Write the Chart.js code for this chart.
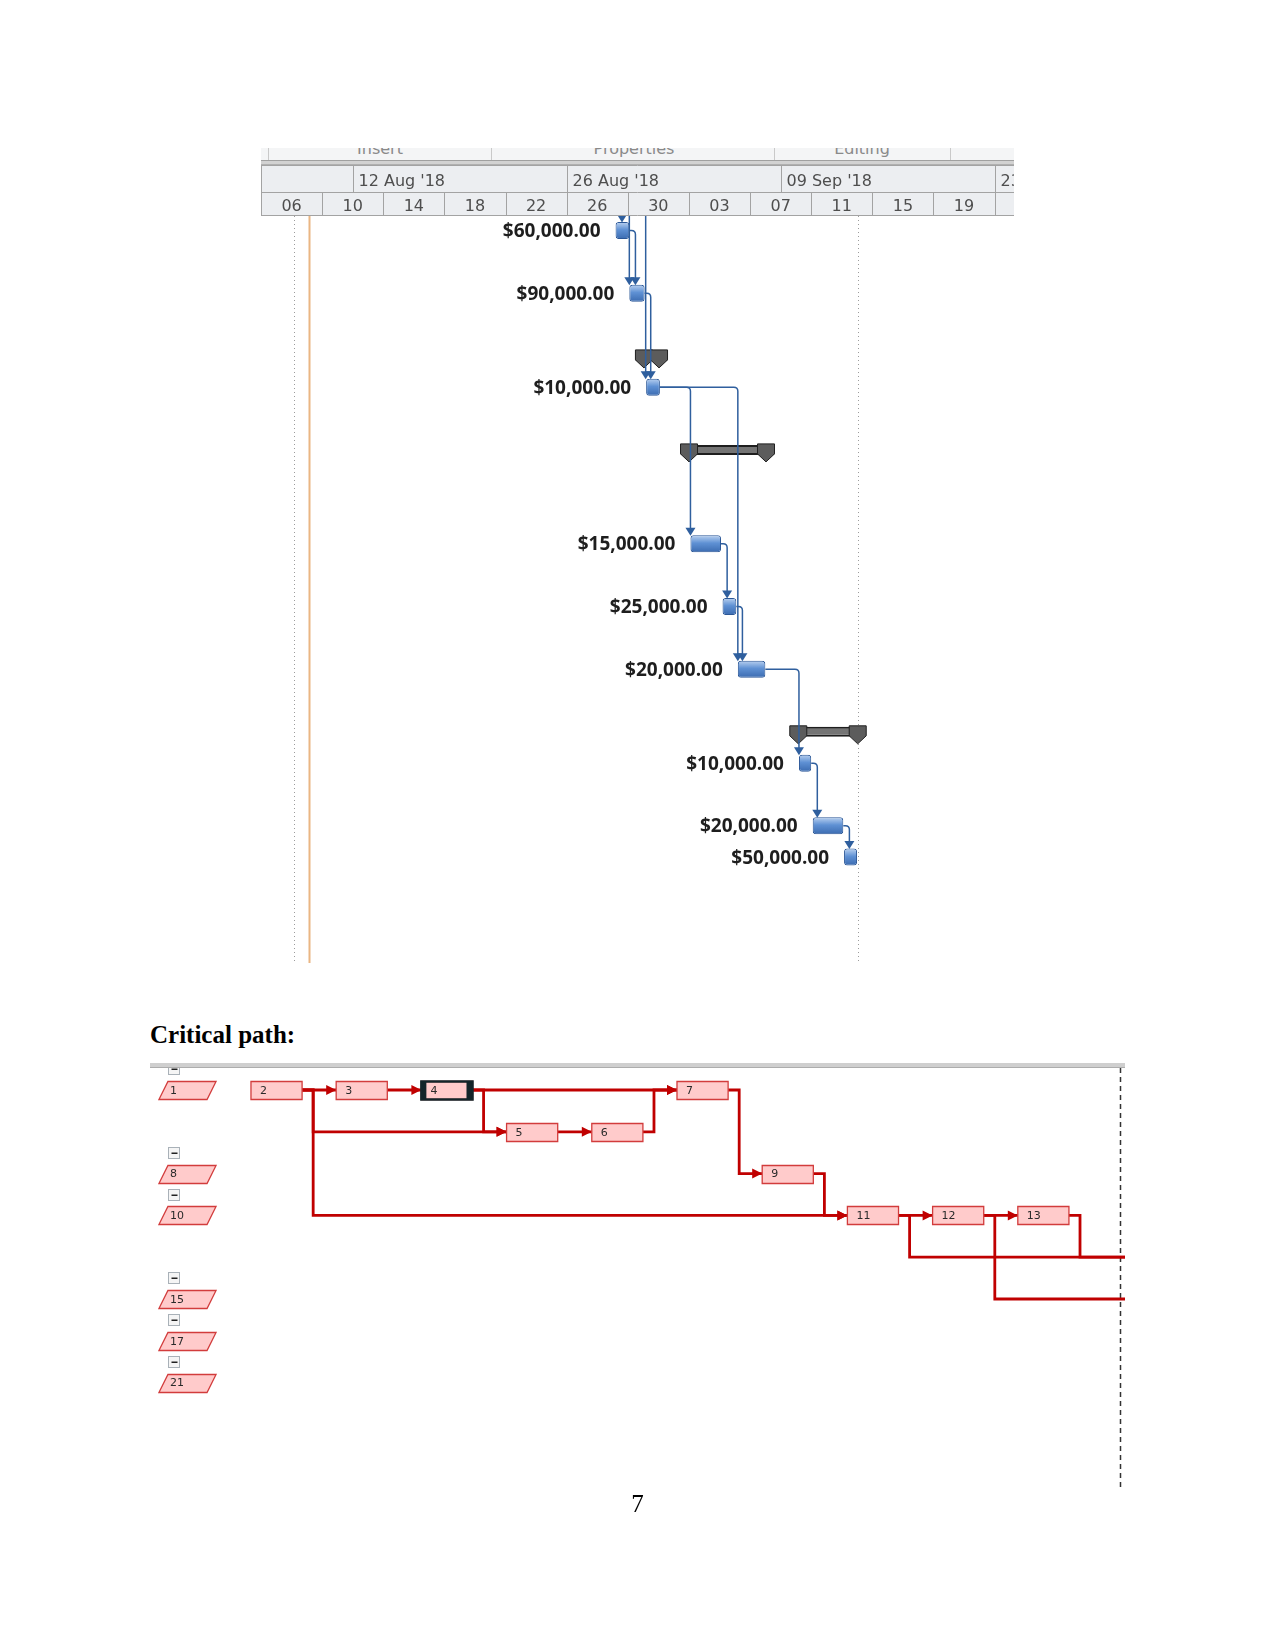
<!DOCTYPE html>
<html>
<head>
<meta charset="utf-8">
<title>Cost Gantt and critical path</title>
<script src="https://cdn.jsdelivr.net/npm/chart.js"></script>
<style>
    body { margin: 0; background: #fff; }
    .page { position: relative; width: 1275px; height: 1651px; overflow: hidden; }
    #ribbon { position: absolute; left: 261px; top: 148px; width: 753px; height: 12px; background: #f4f5f6; overflow: hidden; z-index: 2; }
    #ribbon span { position: absolute; top: -7px; font: 16px/16px "DejaVu Sans", sans-serif; color: #8a8a8a; transform: translateX(-50%); white-space: nowrap; }
    #ribbon i { position: absolute; top: 0; width: 1px; height: 12px; background: #c9c9c9; }
    #ribbon-line { position: absolute; left: 261px; top: 160px; width: 753px; height: 3px; background: #d2d2d2; border-top: 1px solid #a0a0a0; border-bottom: 1px solid #b0b0b0; z-index: 2; }
    #gantt { position: absolute; left: 261px; top: 148px; }
    #title { position: absolute; left: 150px; top: 1022px; font: bold 25px/25px "Liberation Serif", "Times New Roman", serif; color: #000; }
    #network { position: absolute; left: 150px; top: 1060px; }
    #pageno { position: absolute; left: 0; width: 1275px; top: 1491px; text-align: center; font: 25px/25px "Liberation Serif", "Times New Roman", serif; color: #000; }
</style>
</head>
<body>
<div class="page">
    <div id="ribbon">
        <i style="left:7px"></i><i style="left:230px"></i><i style="left:513px"></i><i style="left:689px"></i>
        <span style="left:119px">Insert</span>
        <span style="left:373px">Properties</span>
        <span style="left:601px">Editing</span>
    </div>
    <div id="ribbon-line"></div>
    <canvas id="gantt" width="753" height="815"></canvas>
    <div id="title">Critical path:</div>
    <canvas id="network" width="975" height="432"></canvas>
    <div id="pageno">7</div>
</div>
<script>
// ---- Gantt (days counted from 06 Aug '18) ----
const dayLabels = ['06', '10', '14', '18', '22', '26', '30', '03', '07', '11', '15', '19', '23'];
const monthLabels = ["12 Aug '18", "26 Aug '18", "09 Sep '18", "23 Sep '18"];
const monthStartDay = [6, 20, 34, 48];

const taskRows = [0, 2, 5, 10, 12, 14, 17, 19, 20];
const taskStart = [23.2, 24.1, 25.2, 28.1, 30.2, 31.2, 35.2, 36.1, 38.15];
const taskEnd = [24.1, 25.1, 26.1, 30.1, 31.1, 33.0, 36.0, 38.1, 39.0];
const taskCost = [60000, 90000, 10000, 15000, 25000, 20000, 10000, 20000, 50000];

const summaryRows = [4, 7, 16];
const summaryStart = [24.5, 27.45, 34.6];
const summaryEnd = [26.6, 33.6, 39.6];

const linkFrom = [0, 1, 2, 2, 3, 4, 5, 6, 7];
const linkTo = [1, 2, 3, 5, 4, 5, 6, 7, 8];
const externalTo = [0, 1, 2];        // links coming from tasks above the visible part
const externalDay = [23.62, 24.1, 25.17];

const markerDay = [2.13, 3.17, 39.08];
const markerKind = ['bound', 'today', 'bound'];

// ---- Network diagram (column / row units) ----
const netIds = ['1', '2', '3', '4', '5', '6', '7', '8', '9', '10', '11', '12', '13', '15', '17', '21'];
const netCol = [-1.08, 0, 1, 2, 3, 4, 5, -1.08, 6, -1.08, 7, 8, 9, -1.08, -1.08, -1.08];
const netRow = [0, 0, 0, 0, 1, 1, 0, 2, 2, 3, 3, 3, 3, 5, 6, 7];
const summaryIds = ['1', '8', '10', '15', '17', '21'];
const selectedId = '4';
const edgeFrom = ['2', '3', '4', '2', '4', '5', '6', '2', '7', '9', '11', '12'];
const edgeTo = ['3', '4', '7', '5', '5', '6', '7', '11', '9', '11', '12', '13'];
const offFrom = ['11', '13', '12'];
const offRow = [4, 4, 5];
const pageBreakCol = 10.2;

const BOX_W = 0.6, SUM_W = 0.67, JOG = 0.13;

function fmtCost(v) {
    return '$' + v.toLocaleString('en-US', { minimumFractionDigits: 2, maximumFractionDigits: 2 });
}

function barFill(c) {
    const ch = c.chart;
    if (!ch.chartArea || !c.raw) return '#5b8bd0';
    const yc = ch.scales.y.getPixelForValue(c.raw.y);
    const g = ch.ctx.createLinearGradient(0, yc - 8, 0, yc + 8);
    g.addColorStop(0, '#b4cdee');
    g.addColorStop(0.45, '#5f91d4');
    g.addColorStop(1, '#3d6db2');
    return g;
}

function downArrow(ctx, x, y) {
    ctx.beginPath();
    ctx.moveTo(x - 5, y - 8);
    ctx.lineTo(x + 5, y - 8);
    ctx.lineTo(x, y);
    ctx.closePath();
    ctx.fill();
}

const ganttPlugin = {
    id: 'ganttDecor',
    beforeDatasetsDraw(chart) {
        const { ctx, chartArea: a, scales: { x } } = chart;
        ctx.save();
        markerDay.forEach((d, i) => {
            const px = Math.round(x.getPixelForValue(d)) + 0.5;
            ctx.beginPath();
            if (markerKind[i] === 'today') {
                ctx.strokeStyle = '#eab683'; ctx.lineWidth = 2; ctx.setLineDash([]);
            } else {
                ctx.strokeStyle = '#9c9c9c'; ctx.lineWidth = 1; ctx.setLineDash([1, 3]);
            }
            ctx.moveTo(px, a.top); ctx.lineTo(px, a.bottom); ctx.stroke();
        });
        ctx.restore();
    },
    afterDatasetsDraw(chart) {
        const { ctx, chartArea: a, scales: { x, y } } = chart;
        ctx.save();
        // summary end caps
        ctx.fillStyle = '#5c5c5c'; ctx.strokeStyle = '#202020'; ctx.lineWidth = 1;
        summaryRows.forEach((r, i) => {
            const top = y.getPixelForValue(r) - 6;
            [x.getPixelForValue(summaryStart[i]), x.getPixelForValue(summaryEnd[i]) - 17].forEach(l => {
                ctx.beginPath();
                ctx.moveTo(l, top); ctx.lineTo(l + 17, top); ctx.lineTo(l + 17, top + 10);
                ctx.lineTo(l + 8.5, top + 18); ctx.lineTo(l, top + 10); ctx.closePath();
                ctx.fill(); ctx.stroke();
            });
        });
        // links
        ctx.strokeStyle = '#2f5f9e'; ctx.fillStyle = '#2f5f9e'; ctx.lineWidth = 1.5;
        linkFrom.forEach((f, i) => {
            const t = linkTo[i];
            const x0 = x.getPixelForValue(taskEnd[f]);
            const y0 = y.getPixelForValue(taskRows[f]);
            const vx = x.getPixelForValue(Math.max(taskStart[t], taskEnd[f] + 0.4));
            const y1 = y.getPixelForValue(taskRows[t]) - 8;
            ctx.beginPath();
            ctx.moveTo(x0, y0);
            ctx.lineTo(vx - 4, y0);
            ctx.quadraticCurveTo(vx, y0, vx, y0 + 4);
            ctx.lineTo(vx, y1 - 7);
            ctx.stroke();
            downArrow(ctx, vx, y1);
        });
        externalTo.forEach((t, i) => {
            const vx = x.getPixelForValue(externalDay[i]);
            const y1 = y.getPixelForValue(taskRows[t]) - 8;
            ctx.beginPath(); ctx.moveTo(vx, a.top); ctx.lineTo(vx, y1 - 7); ctx.stroke();
            downArrow(ctx, vx, y1);
        });
        // cost labels
        ctx.font = 'bold 19px "Open Sans", "Liberation Sans", sans-serif';
        ctx.fillStyle = '#1e1e1e'; ctx.textAlign = 'right'; ctx.textBaseline = 'middle';
        taskRows.forEach((r, i) => {
            ctx.fillText(fmtCost(taskCost[i]), x.getPixelForValue(taskStart[i]) - 15, y.getPixelForValue(r) + 1);
        });
        ctx.restore();
    },
    afterDraw(chart) {
        const { ctx, scales: { x }, width } = chart;
        const monthTop = 17, dayTop = 44, bottom = 68;
        ctx.save();
        ctx.fillStyle = '#eceef1';
        ctx.fillRect(0, monthTop, width, bottom - monthTop);
        ctx.strokeStyle = '#a3a3a3'; ctx.lineWidth = 1;
        [monthTop + 0.5, dayTop + 0.5, bottom - 0.5].forEach(h => {
            ctx.beginPath(); ctx.moveTo(0, h); ctx.lineTo(width, h); ctx.stroke();
        });
        ctx.beginPath(); ctx.moveTo(0.5, monthTop); ctx.lineTo(0.5, bottom); ctx.stroke();
        ctx.font = '16px "DejaVu Sans", sans-serif';
        ctx.fillStyle = '#4e4e4e'; ctx.textBaseline = 'middle';
        ctx.textAlign = 'left';
        monthStartDay.forEach((d, i) => {
            const px = Math.round(x.getPixelForValue(d)) + 0.5;
            ctx.beginPath(); ctx.moveTo(px, monthTop); ctx.lineTo(px, dayTop); ctx.stroke();
            ctx.fillText(monthLabels[i], px + 5, (monthTop + dayTop) / 2 + 3);
        });
        ctx.textAlign = 'center';
        dayLabels.forEach((lab, i) => {
            const px = Math.round(x.getPixelForValue(i * 4)) + 0.5;
            ctx.beginPath(); ctx.moveTo(px, dayTop); ctx.lineTo(px, bottom); ctx.stroke();
            ctx.fillText(lab, x.getPixelForValue(i * 4 + 2), (dayTop + bottom) / 2 + 3);
        });
        ctx.restore();
    }
};

new Chart(document.getElementById('gantt'), {
    type: 'bar',
    data: {
        datasets: [
            {
                label: 'Tasks',
                data: taskRows.map((r, i) => ({ x: [taskStart[i], taskEnd[i]], y: r })),
                grouped: false, maxBarThickness: 17,
                backgroundColor: barFill, borderColor: '#2b5797', borderWidth: 1,
                borderRadius: 3, borderSkipped: false
            },
            {
                label: 'Summary',
                data: summaryRows.map((r, i) => ({ x: [summaryStart[i], summaryEnd[i]], y: r })),
                grouped: false, maxBarThickness: 10,
                backgroundColor: '#747474', borderColor: '#1e1e1e', borderWidth: 2, borderSkipped: false
            }
        ]
    },
    options: {
        indexAxis: 'y', responsive: false, animation: false, events: [],
        layout: { padding: { top: 68 } },
        plugins: { legend: { display: false }, tooltip: { enabled: false } },
        scales: {
            x: { type: 'linear', min: 0, max: 49.27, display: false },
            y: { type: 'linear', min: -0.466, max: 23.38, reverse: true, offset: false, display: false,
                 afterBuildTicks: s => { s.ticks = []; } }
        }
    },
    plugins: [ganttPlugin]
});

// ---- network diagram ----
function colOf(id) { return netCol[netIds.indexOf(id)]; }
function rowOf(id) { return netRow[netIds.indexOf(id)]; }
function widthOf(id) { return summaryIds.includes(id) ? SUM_W : BOX_W; }

function route(a, b) {
    const x0 = colOf(a) + widthOf(a), y0 = rowOf(a), x1 = colOf(b), y1 = rowOf(b);
    if (y0 === y1) return [{ x: x0, y: y0 }, { x: x1, y: y1 }];
    return [{ x: x0, y: y0 }, { x: x0 + JOG, y: y0 }, { x: x0 + JOG, y: y1 }, { x: x1, y: y1 }];
}

const X_MAX = 10.258;
const edgePaths = edgeFrom.map((f, i) => route(f, edgeTo[i]));
const offPaths = offFrom.map((f, i) => {
    const x0 = colOf(f) + BOX_W, y0 = rowOf(f);
    return [{ x: x0, y: y0 }, { x: x0 + JOG, y: y0 }, { x: x0 + JOG, y: offRow[i] }, { x: X_MAX, y: offRow[i] }];
});

const netPlugin = {
    id: 'netDecor',
    beforeDatasetsDraw(chart) {
        const { ctx, chartArea: a, scales: { x } } = chart;
        const px = Math.round(x.getPixelForValue(pageBreakCol)) + 0.5;
        ctx.save();
        ctx.strokeStyle = '#333'; ctx.lineWidth = 1.5; ctx.setLineDash([5, 4]);
        ctx.beginPath(); ctx.moveTo(px, a.top + 8); ctx.lineTo(px, a.bottom - 4); ctx.stroke();
        ctx.restore();
    },
    afterDatasetsDraw(chart) {
        const { ctx, scales: { x, y } } = chart;
        ctx.save();
        // arrow heads
        ctx.fillStyle = '#c00000';
        edgePaths.forEach(p => {
            const e = p[p.length - 1];
            const px = x.getPixelForValue(e.x), py = y.getPixelForValue(e.y);
            ctx.beginPath();
            ctx.moveTo(px, py); ctx.lineTo(px - 10, py - 5); ctx.lineTo(px - 10, py + 5);
            ctx.closePath(); ctx.fill();
        });
        // nodes
        ctx.font = '11px "DejaVu Sans", sans-serif';
        ctx.textBaseline = 'middle'; ctx.textAlign = 'left';
        netIds.forEach((id, i) => {
            const l = x.getPixelForValue(netCol[i]);
            const r = x.getPixelForValue(netCol[i] + widthOf(id));
            const cy = y.getPixelForValue(netRow[i]);
            const t = Math.round(cy - 9) + 0.5, b = t + 18;
            ctx.lineWidth = 1.3;
            ctx.fillStyle = '#ffcbcb'; ctx.strokeStyle = '#d23c3c';
            ctx.beginPath();
            if (summaryIds.includes(id)) {
                ctx.moveTo(l + 9, t); ctx.lineTo(r, t); ctx.lineTo(r - 9, b); ctx.lineTo(l, b);
            } else {
                ctx.rect(l, t, r - l, 18);
            }
            ctx.closePath(); ctx.fill(); ctx.stroke();
            if (id === selectedId) {
                ctx.fillStyle = '#13252a';
                ctx.fillRect(l, t, 5, 18);
                ctx.fillRect(r - 6, t, 6, 18);
                ctx.strokeStyle = '#13252a'; ctx.lineWidth = 2.5;
                ctx.strokeRect(l, t, r - l, 18);
            }
            ctx.fillStyle = '#2a2a2a';
            ctx.fillText(id, l + (summaryIds.includes(id) ? 11 : 9), cy + 1);
            // collapse box above summaries
            if (summaryIds.includes(id)) {
                const my = Math.round(y.getPixelForValue(netRow[i] - 0.5)) - 5.5;
                const mx = Math.round(l + 9) + 0.5;
                ctx.fillStyle = '#f5f5f5'; ctx.strokeStyle = '#a9b1b8'; ctx.lineWidth = 1;
                ctx.fillRect(mx, my, 11, 11); ctx.strokeRect(mx, my, 11, 11);
                ctx.fillStyle = '#222'; ctx.fillRect(mx + 3, my + 5, 6, 1.5);
            }
        });
        ctx.restore();
    },
    afterDraw(chart) {
        const { ctx, width } = chart;
        ctx.save();
        ctx.fillStyle = '#cfcfcf'; ctx.fillRect(0, 3, width, 4);
        ctx.fillStyle = '#adadad'; ctx.fillRect(0, 7, width, 1);
        ctx.restore();
    }
};

new Chart(document.getElementById('network'), {
    type: 'scatter',
    data: {
        datasets: edgePaths.concat(offPaths).map(p => ({
            data: p, showLine: true, borderColor: '#c00000', borderWidth: 2.8,
            pointRadius: 0, pointHoverRadius: 0, fill: false, tension: 0
        }))
    },
    options: {
        responsive: false, animation: false, events: [],
        plugins: { legend: { display: false }, tooltip: { enabled: false } },
        scales: {
            x: { type: 'linear', min: -1.185, max: X_MAX, display: false },
            y: { type: 'linear', min: -0.718, max: 9.617, reverse: true, display: false }
        }
    },
    plugins: [netPlugin]
});
</script>
</body>
</html>
